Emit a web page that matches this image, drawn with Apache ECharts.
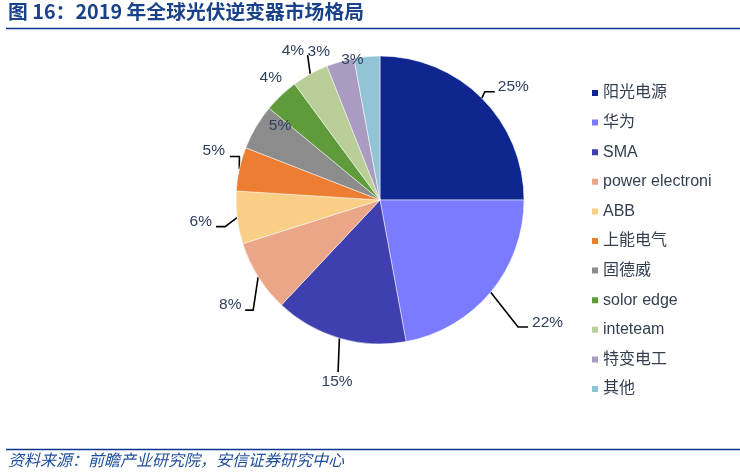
<!DOCTYPE html>
<html>
<head>
<meta charset="utf-8">
<script src="https://cdn.jsdelivr.net/npm/echarts@6/dist/echarts.min.js"></script>
<style>
html,body{margin:0;padding:0;background:#fff;}
#chart{width:740px;height:472px;}
</style>
</head>
<body>
<div id="chart"></div>
<script>
// ---- data ----
var categories = ['阳光电源', '华为', 'SMA', 'power electroni', 'ABB', '上能电气', '固德威', 'solor edge', 'inteteam', '特变电工', '其他'];
var shares = [25, 22.1, 14.9, 8.1, 5.9, 4.9, 5.1, 3.9, 4.1, 3.1, 2.9];
var titleText = '图 16：2019 年全球光伏逆变器市场格局';
var sourceText = '资料来源：前瞻产业研究院，安信证券研究中心';

// ---- styles ----
var colors = ['#0F258F', '#7B7BFF', '#3F3FAF', '#EBA688', '#F9CE86', '#ED7D31', '#8C8C8C', '#5F9A3B', '#BACF97', '#A99BC1', '#93C4D6'];
var FONT = '"Liberation Sans", Arial, "Noto Sans CJK SC", sans-serif';
var CENTER = [380, 200], RADIUS = 144;
// leader line / label offsets relative to the slice's edge midpoint:
// elbow [dx,dy], horizontal run, text offset [dx,dy], align
var leader = [
  {elbow: [3, -6.5], run: 10, text: [16, -11], align: 'left'},
  {elbow: [27.4, 34.8], run: 10, text: [41.4, 30.8], align: 'left'},
  {elbow: [-1.3, 34], run: 0, text: [-2.3, 44], align: 'center'},
  {elbow: [-5, 33.3], run: -8, text: [-16.7, 28.3], align: 'right'},
  {elbow: [-12, 9], run: -9, text: [-25.1, 4.1], align: 'right'},
  {elbow: [0, -12.5], run: -9.5, text: [-14.4, -18.4], align: 'right'},
  {elbow: null, text: [24.2, -1.4], align: 'center'},
  {elbow: null, text: [-10.3, -17.7], align: 'center'},
  {elbow: [-2.6, -19], run: 0, text: [-17.4, -23.4], align: 'center'},
  {elbow: null, text: [-21.5, -9.9], align: 'center'},
  {elbow: null, text: [-14.5, 3.4], align: 'center'}
];

var total = shares.reduce(function (a, b) { return a + b; }, 0);
function edgePoint(i) {
  var before = 0;
  for (var k = 0; k < i; k++) before += shares[k];
  var mid = (before + shares[i] / 2) / total * Math.PI * 2;
  return [CENTER[0] + RADIUS * Math.sin(mid), CENTER[1] - RADIUS * Math.cos(mid)];
}

var pieData = categories.map(function (name, i) {
  return {name: name, value: shares[i], itemStyle: {color: colors[i]}};
});

var chart = echarts.init(document.getElementById('chart'), null, {renderer: 'canvas'});
chart.setOption({
  animation: false,
  backgroundColor: '#fff',
  color: colors,
  legend: {
    orient: 'vertical',
    left: 585,
    top: 80,
    itemWidth: 8,
    itemHeight: 8,
    itemGap: 13.6,
    icon: 'rect',
    textStyle: {fontFamily: FONT, fontSize: 16, lineHeight: 16, color: '#333F50', padding: [0, 0, 0, -1]},
    data: categories
  },
  graphic: [
    {type: 'text', left: 8, top: 2, style: {text: titleText, fontFamily: '"Noto Sans CJK SC", sans-serif', fontWeight: 'bold', fontSize: 19.8, fill: '#1A428A'}},
    {type: 'line', shape: {x1: 6, y1: 28.5, x2: 740, y2: 28.5}, style: {stroke: '#0A3591', lineWidth: 1.4}},
    {type: 'line', shape: {x1: 6, y1: 449.5, x2: 740, y2: 449.5}, style: {stroke: '#0A3591', lineWidth: 1.4}},
    {type: 'text', left: 8, top: 452, style: {text: sourceText, fontFamily: '"Noto Sans CJK SC", sans-serif', fontStyle: 'italic', fontSize: 16, fill: '#1F4E9A'}}
  ],
  series: [{
    type: 'pie',
    center: CENTER,
    radius: RADIUS,
    startAngle: 90,
    clockwise: true,
    avoidLabelOverlap: false,
    percentPrecision: 0,
    itemStyle: {borderColor: '#ffffff', borderWidth: 0.5},
    emphasis: {disabled: true},
    label: {
      show: true,
      position: 'outside',
      formatter: '{d}%',
      fontFamily: FONT,
      fontSize: 15.5,
      color: '#2E3F5C'
    },
    labelLine: {show: true, length: 0, length2: 0, lineStyle: {color: '#000', width: 1.6}},
    labelLayout: function (params) {
      var i = params.dataIndex;
      var cfg = leader[i];
      var p0 = (params.labelLinePoints && params.labelLinePoints[0]) ? params.labelLinePoints[0] : edgePoint(i);
      var pts;
      if (cfg.elbow) {
        var p1 = [p0[0] + cfg.elbow[0], p0[1] + cfg.elbow[1]];
        var p2 = [p1[0] + cfg.run, p1[1]];
        pts = [[p0[0], p0[1]], p1, p2];
      } else {
        pts = [[p0[0], p0[1]], [p0[0], p0[1]]];
      }
      return {
        x: p0[0] + cfg.text[0],
        y: p0[1] + cfg.text[1],
        align: cfg.align,
        verticalAlign: 'middle',
        labelLinePoints: pts
      };
    },
    data: pieData
  }]
});
</script>
</body>
</html>
